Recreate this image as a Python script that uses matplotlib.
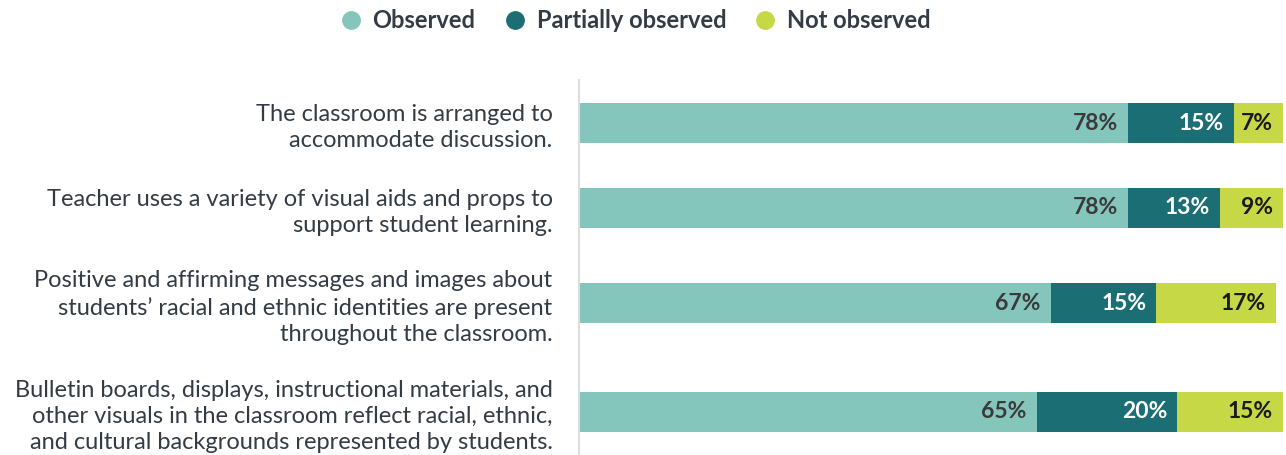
import matplotlib
matplotlib.use("Agg")
import matplotlib.pyplot as plt
import numpy as np
from matplotlib.lines import Line2D

categories = [
    "The classroom is arranged to\naccommodate discussion.",
    "Teacher uses a variety of visual aids and props to\nsupport student learning.",
    "Positive and affirming messages and images about\nstudents\u2019 racial and ethnic identities are present\nthroughout the classroom.",
    "Bulletin boards, displays, instructional materials, and\nother visuals in the classroom reflect racial, ethnic,\nand cultural backgrounds represented by students.",
]
series_names = ["Observed", "Partially observed", "Not observed"]
observed = [78, 78, 67, 65]
partially = [15, 13, 15, 20]
not_observed = [7, 9, 17, 15]

# layout (row centres in pixel-like units, top of axes = 80)
row_pos = [123, 208, 303, 412]
bar_h = 40
colors = ["#85C6BC", "#1C6E75", "#C6D845"]
label_colors = ["#3A3A3A", "#FFFFFF", "#1A1A1A"]
text_color = "#333B45"

plt.rcParams['font.family'] = ['Lato', 'DejaVu Sans']

fig = plt.figure(figsize=(12.86, 4.55), dpi=100)
ax = fig.add_axes([579/1286, 0, (1283-579)/1286, (455-80)/455])
ax.set_ylim(455, 80)
ax.set_xlim(0, 100)

left = np.zeros(len(categories))
for vals, name, c, lc in zip([observed, partially, not_observed], series_names, colors, label_colors):
    bars = ax.barh(row_pos, vals, left=left, height=bar_h, color=c, label=name)
    for b, v in zip(bars, vals):
        ax.text(b.get_x() + b.get_width() - 1.4, b.get_y() + b.get_height()/2,
                f"{v}%", ha="right", va="center", color=lc, fontsize=16.5, fontweight="bold")
    left += np.array(vals)

ax.set_yticks(row_pos)
ax.set_yticklabels(categories, fontsize=17, color=text_color, linespacing=1.3)
ax.tick_params(axis="y", length=0, pad=19)
ax.tick_params(axis="x", bottom=False, labelbottom=False)
for s in ["top", "right", "bottom"]:
    ax.spines[s].set_visible(False)
ax.spines["left"].set_color("#DDDDDD")
ax.spines["left"].set_linewidth(1.5)

leg_handles = [Line2D([0], [0], marker="o", linestyle="", markersize=12.5,
                      markerfacecolor=c, markeredgecolor=c) for c in colors]
leg = fig.legend(leg_handles, series_names, loc="upper center", bbox_to_anchor=(0.4936, 1.027),
                 ncol=3, frameon=False, fontsize=17, handlelength=1.0, handletextpad=0.43,
                 columnspacing=1.15)
for t in leg.get_texts():
    t.set_color(text_color)
    t.set_fontweight("bold")

fig.savefig("out.png", dpi=100)
